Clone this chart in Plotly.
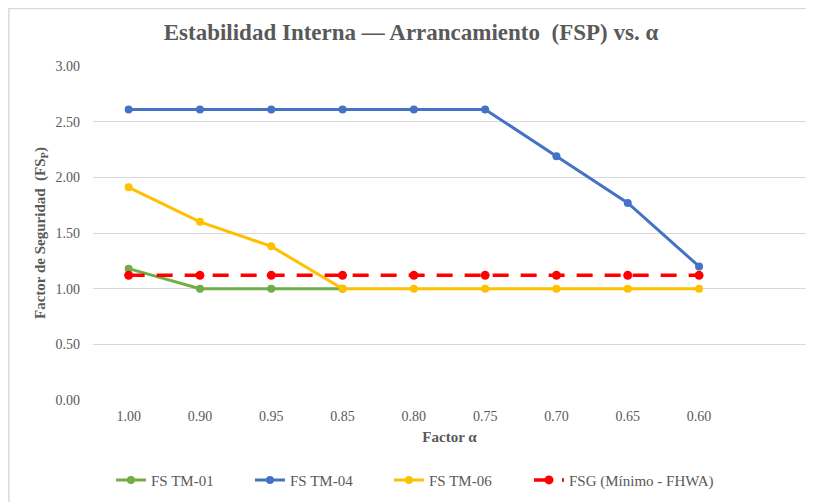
import plotly.graph_objects as go

# factor alpha categories (kept in the order shown in the source chart)
alpha_labels = ["1.00", "0.90", "0.95", "0.85", "0.80", "0.75", "0.70", "0.65", "0.60"]

fs_tm01 = [1.18, 1.00, 1.00, 1.00]
fs_tm04 = [2.61, 2.61, 2.61, 2.61, 2.61, 2.61, 2.19, 1.77, 1.20]
fs_tm06 = [1.91, 1.60, 1.38, 1.00, 1.00, 1.00, 1.00, 1.00, 1.00]
fsg_min = [1.12] * 9

serif = "Liberation Serif"
gray = "#595959"

fig = go.Figure()
fig.add_trace(go.Scatter(x=alpha_labels[:len(fs_tm01)], y=fs_tm01, name="FS TM-01",
                         mode="lines+markers", line=dict(color="#70AD47", width=3),
                         marker=dict(size=8)))
fig.add_trace(go.Scatter(x=alpha_labels, y=fs_tm04, name="FS TM-04",
                         mode="lines+markers", line=dict(color="#4472C4", width=3),
                         marker=dict(size=8)))
fig.add_trace(go.Scatter(x=alpha_labels, y=fs_tm06, name="FS TM-06",
                         mode="lines+markers", line=dict(color="#FFC000", width=3),
                         marker=dict(size=8)))
fig.add_trace(go.Scatter(x=alpha_labels, y=fsg_min, name="FSG (Mínimo - FHWA)",
                         mode="lines+markers", legend="legend2",
                         line=dict(color="#FF0000", width=3.5, dash="16px,12px"),
                         marker=dict(size=9)))

legend_font = dict(family=serif, size=15, color=gray)

# page body has an 8px margin, so the figure is a bit smaller than the window
fig.update_layout(
    width=806, height=494,
    paper_bgcolor="white", plot_bgcolor="white",
    margin=dict(l=85, r=8, t=58, b=102, autoexpand=False),
    title=dict(text="<b>Estabilidad Interna — Arrancamiento  (FSP) vs. α</b>",
               x=0.5, xanchor="center", y=0.951, yanchor="middle",
               font=dict(family=serif, size=23, color=gray)),
    font=dict(family=serif, color=gray),
    xaxis=dict(type="category", categoryorder="array",
               categoryarray=alpha_labels + [" "],
               range=[-0.5, 9.5], showgrid=False, zeroline=False,
               showline=False, ticks="", automargin=False,
               tickfont=dict(family=serif, size=14, color=gray),
               ticklabelstandoff=6,
               title=dict(text="<b>Factor α</b>", standoff=8,
                          font=dict(family=serif, size=15, color=gray))),
    yaxis=dict(range=[0, 3], dtick=0.5, tickformat=".2f",
               showgrid=True, gridcolor="#D9D9D9", gridwidth=1,
               zeroline=False, showline=False, ticks="", automargin=False,
               tickfont=dict(family=serif, size=14, color=gray),
               ticklabelstandoff=12,
               title=dict(text="<b>Factor de Seguridad  (FS<sub>P</sub>)</b>", standoff=6,
                          font=dict(family=serif, size=15, color=gray))),
    legend=dict(orientation="h", x=0.0252, xanchor="left", y=-0.24, yanchor="middle",
                font=legend_font, entrywidth=94, entrywidthmode="pixels",
                tracegroupgap=0),
    legend2=dict(orientation="h", x=0.6115, xanchor="left", y=-0.24, yanchor="middle",
                 font=legend_font),
    shapes=[dict(type="rect", xref="paper", yref="paper",
                 x0=-0.118, x1=1.03, y0=-0.35, y1=1.172,
                 line=dict(color="#D9D9D9", width=1.5), layer="below")],
)

fig.write_html("out.html")
